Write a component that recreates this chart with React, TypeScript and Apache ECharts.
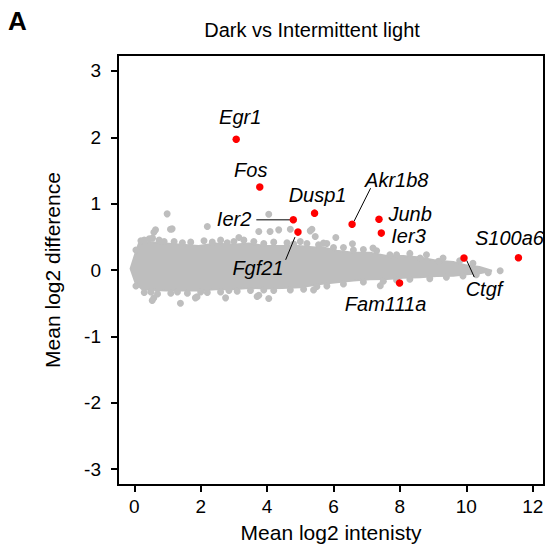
import React, { useEffect, useRef } from "react";
import * as echarts from "echarts";

// ---- data ----
const genes = ["Egr1", "Fos", "Dusp1", "Ier2", "Akr1b8", "Junb", "Ier3", "Ctgf", "S100a6", "Fam111a", "Fgf21"];
const geneX = [3.07, 3.78, 5.43, 4.79, 6.56, 7.37, 7.44, 9.93, 11.57, 7.99, 4.93];
const geneY = [1.97, 1.25, 0.857, 0.756, 0.69, 0.766, 0.556, 0.18, 0.185, -0.195, 0.571];

const xTicks = [0, 2, 4, 6, 8, 10, 12];
const yTicks = [-3, -2, -1, 0, 1, 2, 3];

// dense core of the gray cloud: upper and lower edges
const cloudUpper = [
  [-0.11, 0.02], [0.04, 0.26], [0.14, 0.4], [0.44, 0.42], [0.94, 0.4], [1.44, 0.38], [1.94, 0.36],
  [2.45, 0.4], [2.95, 0.38], [3.45, 0.4], [3.95, 0.36], [4.45, 0.36], [4.95, 0.36], [5.45, 0.34],
  [5.6, 0.35], [6.1, 0.29], [6.6, 0.26], [7.1, 0.26], [7.61, 0.21], [8.1, 0.21], [8.61, 0.19],
  [9.11, 0.14], [9.61, 0.12], [10.0, 0.07], [10.4, 0.045], [10.77, -0.01],
];
const cloudLower = [
  [-0.11, 0.02], [0.04, -0.2], [0.24, -0.29], [0.94, -0.31], [1.44, -0.31], [1.94, -0.31],
  [2.45, -0.29], [2.95, -0.29], [3.45, -0.27], [3.95, -0.28], [4.45, -0.27], [5.0, -0.26],
  [5.6, -0.21], [6.1, -0.185], [6.6, -0.16], [7.1, -0.14], [7.61, -0.135], [8.1, -0.115],
  [8.61, -0.11], [9.11, -0.09], [9.61, -0.085], [10.0, -0.065], [10.4, -0.05], [10.77, -0.01],
];
// gray points along the cloud's edges
const cloudEdge = [
  [0.05, 0.3], [0.2, 0.44], [0.3, 0.45], [0.45, 0.47], [0.55, 0.48], [0.75, 0.45], [0.9, 0.43],
  [1.2, 0.43], [1.45, 0.41], [1.7, 0.42], [2.1, 0.44], [2.35, 0.42], [2.6, 0.45], [2.8, 0.41],
  [3.0, 0.43], [3.3, 0.45], [3.6, 0.43], [3.9, 0.4], [4.2, 0.42], [4.6, 0.41], [4.8, 0.39],
  [5.0, 0.43], [5.2, 0.4], [5.55, 0.38], [5.8, 0.4], [6.0, 0.34], [6.3, 0.34], [6.6, 0.3],
  [6.9, 0.31], [7.3, 0.29], [7.7, 0.23], [7.9, 0.23], [8.3, 0.25], [8.61, 0.18], [8.8, 0.23],
  [9.16, 0.13], [9.3, 0.18], [9.8, 0.14], [10.2, 0.1], [10.31, 0.0], [10.66, -0.04],
  [0.05, -0.24], [0.3, -0.34], [0.5, -0.33], [0.7, -0.36], [1.1, -0.35], [1.3, -0.33],
  [1.6, -0.35], [2.0, -0.33], [2.2, -0.34], [2.6, -0.33], [2.85, -0.31], [3.1, -0.32],
  [3.5, -0.31], [3.9, -0.3], [4.2, -0.31], [4.7, -0.3], [5.1, -0.29], [5.5, -0.25],
  [5.8, -0.24], [6.3, -0.21], [6.9, -0.18], [7.5, -0.17], [7.9, -0.15], [8.3, -0.14],
  [8.9, -0.13], [9.4, -0.11], [9.9, -0.09], [10.3, -0.07],
];
// scattered gray points away from the core
const grayOutliers = [
  [0.99, 0.846], [1.14, 0.62], [0.64, 0.605], [0.59, 0.57], [1.09, 0.615], [2.2, 0.655], [4.05, 0.84],
  [4.35, 0.605], [4.09, 0.58], [3.75, 0.58], [3.15, 0.49], [5.45, 0.505], [5.3, 0.59], [4.7, 0.615],
  [5.35, 0.615], [6.07, 0.49], [6.57, 0.395], [7.19, 0.33], [5.7, 0.405], [1.39, -0.5], [1.84, -0.42],
  [0.54, -0.46], [2.75, -0.42], [3.75, -0.38], [4.05, -0.43], [5.4, -0.3], [7.41, -0.236], [11.02, -0.01],
  [1.89, -0.405], [3.7, -0.4], [0.59, -0.42],
];

// ---- styles / layout (label offsets in pixels from each red point) ----
const GRAY = "#BEBEBE";
const RED = "#FF0000";
const FONT = '"Liberation Sans", Arial, Helvetica, sans-serif';
type LabelLayout = { dx: number; dy: number; align: "left" | "center" | "right"; line?: number[] };
const labelLayout: LabelLayout[] = [
  { dx: 4, dy: -22, align: "center" },
  { dx: -9, dy: -17, align: "center" },
  { dx: 3, dy: -18, align: "center" },
  { dx: -42, dy: -0.5, align: "right", line: [-37, 0, -3, 0] },
  { dx: 13, dy: -44.6, align: "left", line: [2, -3, 18.5, -36] },
  { dx: 9.5, dy: -5.5, align: "left" },
  { dx: 10, dy: 3, align: "left" },
  { dx: 20, dy: 31, align: "center", line: [2.7, 2.3, 10.3, 19] },
  { dx: -9, dy: -20, align: "center" },
  { dx: -14, dy: 21, align: "center" },
  { dx: -40, dy: 36, align: "center", line: [-3, 5, -12.3, 27.7] },
];

export default function App() {
  const ref = useRef<HTMLDivElement>(null);
  useEffect(() => {
    if (!ref.current) return;
    const chart = echarts.init(ref.current, undefined, { renderer: "svg" });
    const axisCommon = {
      splitLine: { show: false },
      axisLine: { show: false, onZero: false },
    };
    chart.setOption({
      animation: false,
      backgroundColor: "#FFFFFF",
      textStyle: { fontFamily: FONT },
      grid: {
        left: 118, right: 5, top: 55, bottom: 60,
        outerBoundsMode: "none", containLabel: false,
        show: true, borderColor: "#000", borderWidth: 2, backgroundColor: "transparent",
      },
      graphic: [
        { type: "text", style: { text: "A", x: 8, y: 21, fill: "#000", font: `bold 26px ${FONT}`, verticalAlign: "middle", align: "left" } },
        { type: "text", style: { text: "Dark vs Intermittent light", x: 312, y: 30, fill: "#000", font: `20px ${FONT}`, verticalAlign: "middle", align: "center" } },
      ],
      xAxis: {
        type: "value",
        min: -0.49,
        max: 12.34,
        ...axisCommon,
        axisTick: { show: true, length: 7, lineStyle: { color: "#000", width: 2 }, customValues: xTicks },
        axisLabel: { customValues: xTicks, fontSize: 19, color: "#000", margin: 12, fontFamily: FONT },
        name: "Mean log2 intenisty",
        nameLocation: "middle",
        nameGap: 37,
        nameTextStyle: { fontSize: 21, color: "#000", fontFamily: FONT },
      },
      yAxis: {
        type: "value",
        min: -3.24,
        max: 3.24,
        ...axisCommon,
        axisTick: { show: true, length: 7, lineStyle: { color: "#000", width: 2 }, customValues: yTicks },
        axisLabel: { customValues: yTicks, fontSize: 19, color: "#000", margin: 17, fontFamily: FONT },
        name: "Mean log2 difference",
        nameLocation: "middle",
        nameGap: 55,
        nameTextStyle: { fontSize: 21, color: "#000", fontFamily: FONT },
      },
      series: [
        {
          type: "custom",
          coordinateSystem: "cartesian2d",
          data: [[0, 0]],
          silent: true,
          z: 1,
          renderItem: (_params: any, api: any) => {
            const pts = [...cloudUpper, ...cloudLower.slice().reverse()].map((p) => api.coord(p));
            return { type: "polygon", shape: { points: pts }, style: { fill: GRAY, stroke: GRAY, lineWidth: 2 } };
          },
        },
        {
          type: "scatter",
          data: [...cloudEdge, ...grayOutliers],
          symbolSize: 7,
          itemStyle: { color: GRAY, opacity: 1 },
          silent: true,
          z: 2,
        },
        {
          type: "scatter",
          data: geneX.map((x, i) => [x, geneY[i]]),
          symbolSize: 7.5,
          itemStyle: { color: RED, opacity: 1 },
          silent: true,
          z: 4,
        },
        {
          type: "custom",
          coordinateSystem: "cartesian2d",
          data: geneX.map((x, i) => [x, geneY[i]]),
          silent: true,
          z: 3,
          clip: false,
          renderItem: (params: any, api: any) => {
            const i = params.dataIndex;
            const [px, py] = api.coord([api.value(0), api.value(1)]);
            const lay = labelLayout[i];
            const children: any[] = [
              {
                type: "text",
                style: {
                  text: genes[i],
                  x: px + lay.dx,
                  y: py + lay.dy,
                  fill: "#000",
                  font: `italic 20px ${FONT}`,
                  align: lay.align,
                  verticalAlign: "middle",
                },
              },
            ];
            if (lay.line) {
              children.push({
                type: "line",
                shape: { x1: px + lay.line[0], y1: py + lay.line[1], x2: px + lay.line[2], y2: py + lay.line[3] },
                style: { stroke: "#000", lineWidth: 1 },
              });
            }
            return { type: "group", children };
          },
        },
      ],
    });
    return () => chart.dispose();
  }, []);
  return <div ref={ref} style={{ position: "absolute", left: 0, top: 0, width: 549, height: 545 }} />;
}
